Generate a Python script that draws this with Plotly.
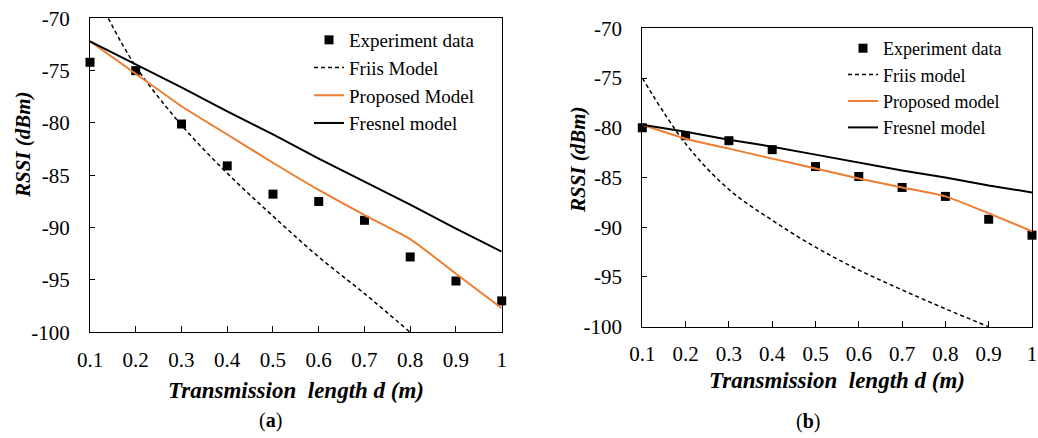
import plotly.graph_objects as go

# ---------------- data ----------------
d = [0.1, 0.2, 0.3, 0.4, 0.5, 0.6, 0.7, 0.8, 0.9, 1.0]

# panel (a)
exp_a = [-74.2, -75.0, -80.1, -84.1, -86.8, -87.5, -89.3, -92.8, -95.1, -97.0]
proposed_a = [-72.2, -75.3, -78.4, -81.1, -83.8, -86.4, -88.8, -91.1, -94.4, -97.7]
fresnel_a = [-72.2, -74.4, -76.6, -78.9, -81.1, -83.4, -85.6, -87.8, -90.1, -92.3]
friis_d_a = [0.14, 0.2, 0.3, 0.4, 0.5, 0.6, 0.7, 0.8]
friis_a = [-70.0, -74.6, -80.2, -84.8, -88.9, -92.8, -96.3, -100.0]

# panel (b)
exp_b = [-80.0, -80.8, -81.3, -82.2, -83.9, -84.9, -86.0, -86.9, -89.2, -90.8]
proposed_b = [-79.7, -81.1, -82.1, -83.1, -84.1, -85.1, -86.0, -86.9, -88.6, -90.4]
fresnel_b = [-79.7, -80.4, -81.2, -81.9, -82.7, -83.5, -84.3, -85.0, -85.8, -86.5]
friis_d_b = [0.1, 0.2, 0.3, 0.4, 0.5, 0.6, 0.7, 0.8, 0.9]
friis_b = [-75.0, -81.6, -86.2, -89.3, -92.0, -94.3, -96.3, -98.2, -100.0]

names_a = ["Experiment data", "Friis Model", "Proposed Model", "Fresnel model"]
names_b = ["Experiment data", "Friis model", "Proposed model", "Fresnel model"]

y_ticks = [-70, -75, -80, -85, -90, -95, -100]
y_tick_text = ["-70", "-75", "-80", "-85", "-90", "-95", "-100"]
x_ticks = [0.1, 0.2, 0.3, 0.4, 0.5, 0.6, 0.7, 0.8, 0.9, 1.0]
x_tick_text = ["0.1", "0.2", "0.3", "0.4", "0.5", "0.6", "0.7", "0.8", "0.9", "1"]

ORANGE = "#ED7D31"
SERIF = "Liberation Serif"

fig = go.Figure()


def add_panel(xa, ya, legend, names, exp, proposed, fresnel, friis_d, friis):
    fig.add_trace(go.Scatter(x=d, y=exp, mode="markers", name=names[0],
                             marker=dict(symbol="square", size=9, color="black"),
                             xaxis=xa, yaxis=ya, legend=legend, cliponaxis=False))
    fig.add_trace(go.Scatter(x=friis_d, y=friis, mode="lines", name=names[1],
                             line=dict(color="black", width=1.5, dash="4px,3px", shape="spline"),
                             xaxis=xa, yaxis=ya, legend=legend))
    fig.add_trace(go.Scatter(x=d, y=proposed, mode="lines", name=names[2],
                             line=dict(color=ORANGE, width=2, shape="spline", smoothing=0.5),
                             xaxis=xa, yaxis=ya, legend=legend))
    fig.add_trace(go.Scatter(x=d, y=fresnel, mode="lines", name=names[3],
                             line=dict(color="black", width=2),
                             xaxis=xa, yaxis=ya, legend=legend))


add_panel("x", "y", "legend", names_a, exp_a, proposed_a, fresnel_a, friis_d_a, friis_a)
add_panel("x2", "y2", "legend2", names_b, exp_b, proposed_b, fresnel_b, friis_d_b, friis_b)

# body margin is removed by the post script, so page pixels == figure pixels
W, H = 1038, 438


def px(x):
    return x / W


def py(y):
    return 1 - y / H


axis_common = dict(showline=True, linecolor="black", linewidth=1, mirror=True,
                   ticks="inside", tickcolor="black", ticklen=6, showgrid=False,
                   zeroline=False, automargin=False, ticklabeloverflow="allow",
                   tickfont=dict(family=SERIF, size=21, color="black"))

xa = dict(axis_common, range=[0.1, 1.0], tickvals=x_ticks, ticktext=x_tick_text,
          ticklabelstandoff=8)
ya = dict(axis_common, range=[-100, -70], tickvals=y_ticks, ticktext=y_tick_text,
          ticklen=5, ticklabelstandoff=15)

fig.update_layout(
    width=W, height=H,
    margin=dict(l=0, r=0, t=0, b=0, autoexpand=False),
    plot_bgcolor="white", paper_bgcolor="white",
    font=dict(family=SERIF, color="black"),
    xaxis=dict(xa, domain=[px(90), px(501.7)], anchor="y"),
    yaxis=dict(ya, domain=[py(332.3), py(18.3)], anchor="x"),
    xaxis2=dict(xa, domain=[px(642.3), px(1032)], anchor="y2"),
    yaxis2=dict(ya, domain=[py(326.7), py(28.3)], anchor="x2"),
    legend=dict(x=px(309), y=py(21), xanchor="left", yanchor="top",
                bgcolor="rgba(0,0,0,0)", font=dict(family=SERIF, size=19, color="black")),
    legend2=dict(x=px(843), y=py(30), xanchor="left", yanchor="top",
                 bgcolor="rgba(0,0,0,0)", font=dict(family=SERIF, size=18, color="black")),
    showlegend=True,
)

title_font = dict(family=SERIF, size=23, color="black")
ytitle_font = dict(family=SERIF, size=21, color="black")
ann = [
    dict(text="<b><i>Transmission  length d (m)</i></b>", x=px(296), y=py(390),
         font=title_font),
    dict(text="<b><i>Transmission  length d (m)</i></b>", x=px(837), y=py(380),
         font=title_font),
    dict(text="<b><i>RSSI (dBm)</i></b>", x=px(23), y=py(145), textangle=-90,
         font=ytitle_font),
    dict(text="<b><i>RSSI (dBm)</i></b>", x=px(578), y=py(160), textangle=-90,
         font=ytitle_font),
    dict(text="(<b>a</b>)", x=px(270), y=py(420), font=dict(family=SERIF, size=20, color="black")),
    dict(text="(<b>b</b>)", x=px(808), y=py(421), font=dict(family=SERIF, size=20, color="black")),
]
for a in ann:
    a.update(xref="paper", yref="paper", showarrow=False, xanchor="center", yanchor="middle")
fig.update_layout(annotations=ann)

fig.write_html("out.html",
               config={"displayModeBar": False},
               post_script="document.body.style.margin='0';document.body.style.overflow='hidden';")
